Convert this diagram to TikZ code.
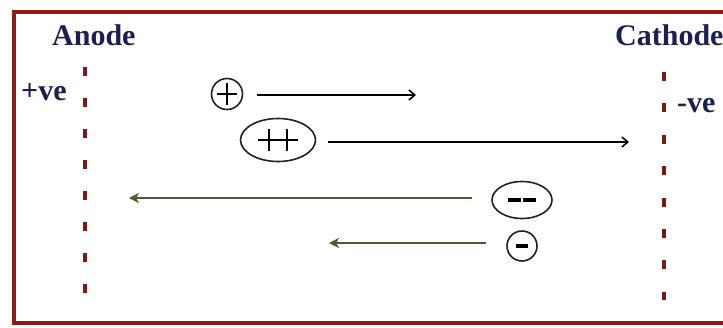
\documentclass[tikz,border=0pt]{standalone}
\usepackage{fontspec}
\setmainfont{Liberation Serif}
\usetikzlibrary{arrows.meta,shapes.geometric}
\definecolor{framered}{HTML}{8E1B17}
\definecolor{dashred}{HTML}{7A1A1A}
\definecolor{labelnavy}{HTML}{1C2050}
\definecolor{ionline}{HTML}{222222}
\definecolor{anionpath}{HTML}{4E5A36}
\begin{document}
\begin{tikzpicture}[x=1pt,y=-1pt,
  label text/.style={font=\fontsize{30}{32}\selectfont\bfseries, text=labelnavy, inner sep=0pt},
  electrode/.style={draw=dashred, line width=4pt, dash pattern=on 9pt off 22pt},
  ioncircle/.style={circle, draw=ionline, line width=1.6pt, inner sep=0pt, minimum size=31pt},
  ionoval/.style={ellipse, draw=ionline, line width=1.6pt, inner sep=0pt},
  chargebar/.style={line width=2.2pt, draw=black},
  anionbar/.style={line width=3.2pt, draw=black},
  cationpath/.style={draw=black, line width=1.5pt, -{Straight Barb[length=6pt,width=10pt,line width=1.5pt]}},
  anionarrow/.style={draw=anionpath, line width=2.4pt, -{Stealth[length=10pt,width=10pt,inset=3pt]}}
]
\useasboundingbox (0,0) rectangle (723,327);
\clip (0,0) rectangle (723,327);
\fill[white] (0,0) rectangle (723,327);

% frame, running off the right edge
\draw[framered, line width=4pt] (760,12) -- (14,12) -- (14,323) -- (760,323);

% electrode labels
\node[label text, anchor=base west] (anode) at (52,45) {Anode};
\node[label text, anchor=base west] (cathode) at (615,45) {Cathode};
\node[label text, anchor=base west] (pos) at (21,100) {+ve};
\node[label text, anchor=base west] (neg) at (677,112) {-ve};

% electrodes as dashed lines
\coordinate (anodetop) at (85,67);
\coordinate (anodebot) at (85,295);
\coordinate (cathtop) at (664,72);
\coordinate (cathbot) at (664,300);
\draw[electrode] (anodetop) -- (anodebot);
\draw[electrode, dash pattern=on 9pt off 22.4pt] (cathtop) -- (cathbot);

% ions
\node[ioncircle] (cat1) at (227,94) {};
\draw[chargebar] (cat1.center) ++(-10,0) -- ++(20,0);
\draw[chargebar] (cat1.center) ++(0,-11) -- ++(0,22);

\node[ionoval, minimum width=75pt, minimum height=43pt] (cat2) at (278,140) {};
\draw[chargebar] (cat2.center) ++(-20,0) -- ++(40,0);
\draw[chargebar] (cat2.center) ++(-9,-11) -- ++(0,22);
\draw[chargebar] (cat2.center) ++(9,-11) -- ++(0,22);

\node[ionoval, minimum width=60pt, minimum height=37pt] (an2) at (522,200) {};
\draw[anionbar] (an2.center) ++(-14,0) -- ++(13,0);
\draw[anionbar] (an2.center) ++(1,0) -- ++(13,0);

\node[ioncircle, minimum size=30pt] (an1) at (522,246) {};
\draw[anionbar] (an1.center) ++(-6,0) -- ++(12,0);

% migration paths
\coordinate (cat1end) at (416,95);
\coordinate (cat2end) at (629,142);
\coordinate (an2end) at (129,198);
\coordinate (an1end) at (329,243);
\draw[cationpath, shorten <=14pt] (cat1.east |- cat1end) -- (cat1end);
\draw[cationpath, shorten <=12pt] (cat2.east |- cat2end) -- (cat2end);
\draw[anionarrow, shorten <=19pt] (an2.west |- an2end) -- (an2end);
\draw[anionarrow, shorten <=20pt] (an1.west |- an1end) -- (an1end);
\end{tikzpicture}
\end{document}
